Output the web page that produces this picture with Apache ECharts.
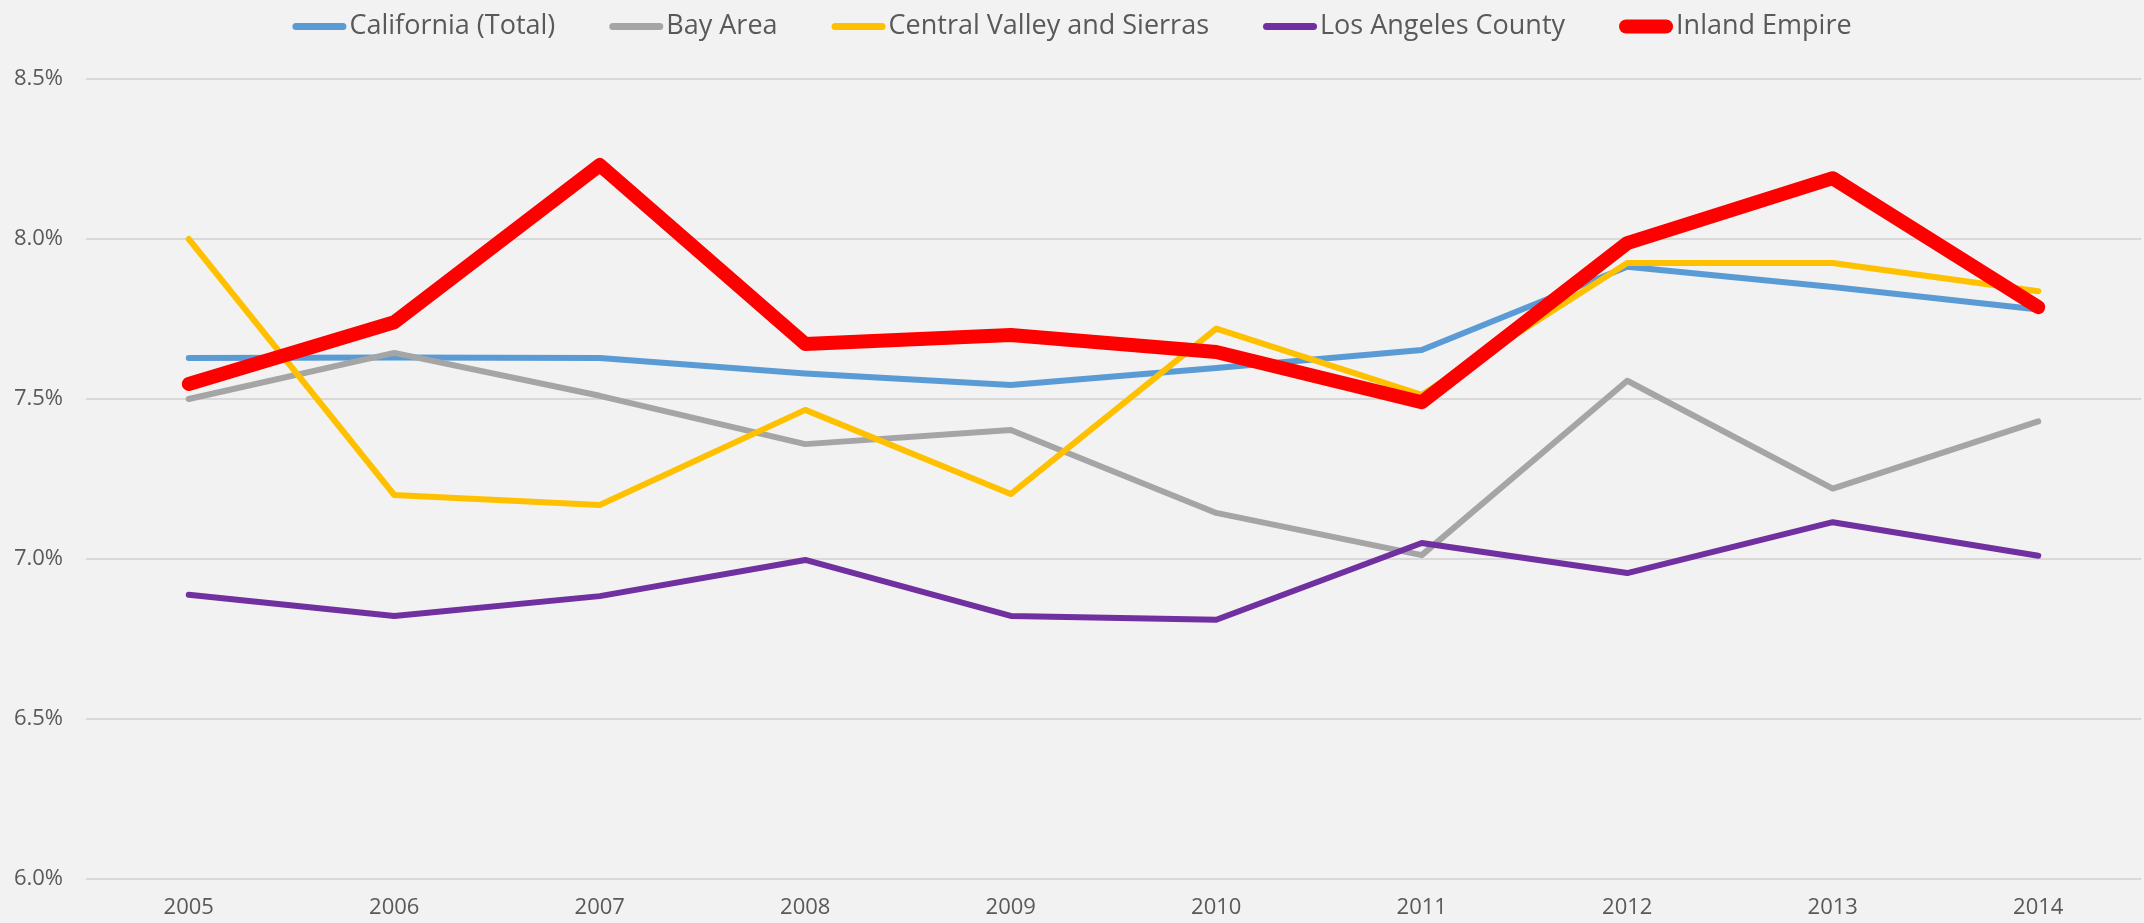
<!DOCTYPE html>
<html>
<head>
<meta charset="utf-8">
<title>Regional rates 2005-2014</title>
<script src="https://cdn.jsdelivr.net/npm/echarts@6/dist/echarts.min.js"></script>
<style>
  html, body { margin: 0; padding: 0; background: #f2f2f2; }
  #chart { width: 2144px; height: 923px; }
</style>
</head>
<body>
<div id="chart"></div>
<script>
  // values, in percent
  var years = ['2005', '2006', '2007', '2008', '2009', '2010', '2011', '2012', '2013', '2014']
  var california = [7.628, 7.630, 7.628, 7.580, 7.544, 7.597, 7.653, 7.913, 7.850, 7.780]
  var bayArea = [7.500, 7.644, 7.510, 7.359, 7.403, 7.144, 7.012, 7.557, 7.220, 7.430]
  var centralValley = [8.000, 7.200, 7.169, 7.466, 7.203, 7.720, 7.513, 7.925, 7.925, 7.837]
  var losAngeles = [6.888, 6.822, 6.884, 6.997, 6.822, 6.810, 7.050, 6.956, 7.115, 7.010]
  var inlandEmpire = [7.547, 7.740, 8.231, 7.672, 7.700, 7.647, 7.490, 7.987, 8.190, 7.787]
  var yTicks = { min: 6.0, max: 8.5, step: 0.5 }

  var font = "'Liberation Sans Narrow', 'Open Sans', sans-serif"
  var textColor = '#595959'

  // rounded bar icons for the legend (thin and thick)
  var thinIcon = 'path://M3.5,3.5 L50.5,3.5 A3.5,3.5 0 0 1 50.5,10.5 L3.5,10.5 A3.5,3.5 0 0 1 3.5,3.5 Z M0,0 L0,0 M54,14 L54,14'
  var thickIcon = 'path://M7,0 L47,0 A7,7 0 0 1 47,14 L7,14 A7,7 0 0 1 7,0 Z'

  function lineSeries(name, data, color, width) {
    return {
      name: name,
      type: 'line',
      data: data,
      symbol: 'none',
      smooth: false,
      lineStyle: { color: color, width: width, cap: 'round', join: 'round' },
      itemStyle: { color: color },
      emphasis: { disabled: true }
    }
  }

  var chart = echarts.init(document.getElementById('chart'))
  var option = {
    backgroundColor: '#f2f2f2',
    animation: false,
    legend: {
      top: 8,
      left: 'center',
      itemWidth: 54,
      itemHeight: 14,
      itemGap: 54,
      textStyle: { fontFamily: font, fontSize: 27, color: textColor, padding: [0, 0, 0, -2] },
      data: [
        { name: 'California (Total)', icon: thinIcon, itemStyle: { color: '#5b9bd5' } },
        { name: 'Bay Area', icon: thinIcon, itemStyle: { color: '#a5a5a5' } },
        { name: 'Central Valley and Sierras', icon: thinIcon, itemStyle: { color: '#ffc000' } },
        { name: 'Los Angeles County', icon: thinIcon, itemStyle: { color: '#7030a0' } },
        { name: 'Inland Empire', icon: thickIcon, itemStyle: { color: '#ff0000' } }
      ]
    },
    grid: { left: 86, right: 3, top: 79, bottom: 44 },
    xAxis: {
      type: 'category',
      boundaryGap: true,
      data: years,
      axisLine: { show: false },
      axisTick: { show: false },
      axisLabel: { fontFamily: font, fontSize: 22, color: textColor, margin: 18 }
    },
    yAxis: {
      type: 'value',
      min: yTicks.min,
      max: yTicks.max,
      interval: yTicks.step,
      axisLine: { show: false },
      axisTick: { show: false },
      axisLabel: {
        fontFamily: font, fontSize: 22, color: textColor, margin: 23,
        formatter: function (v) { return v.toFixed(1) + '%' }
      },
      splitLine: { lineStyle: { color: '#d9d9d9', width: 2 } }
    },
    series: [
      lineSeries('California (Total)', california, '#5b9bd5', 6),
      lineSeries('Bay Area', bayArea, '#a5a5a5', 6),
      lineSeries('Central Valley and Sierras', centralValley, '#ffc000', 6),
      lineSeries('Los Angeles County', losAngeles, '#7030a0', 6),
      lineSeries('Inland Empire', inlandEmpire, '#ff0000', 14)
    ]
  }
  chart.setOption(option)
</script>
</body>
</html>
